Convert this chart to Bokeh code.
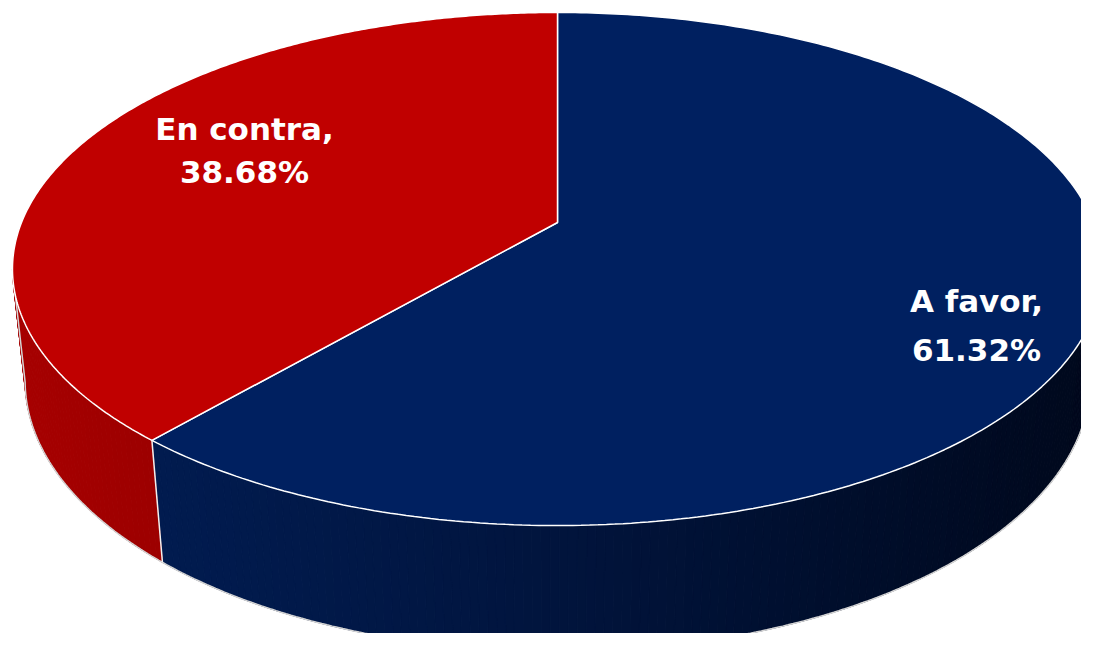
import numpy as np
from bokeh.plotting import figure
from bokeh.models import Range1d
from bokeh.core.properties import value
from bokeh.embed import file_html
from bokeh.resources import INLINE

# ---- data ----
labels = ["A favor", "En contra"]
values = [61.32, 38.68]
top_colors = ["#002060", "#C00000"]
side_light = [(1, 27, 79), (166, 0, 0)]
side_dark = [(0, 8, 28), (156, 0, 0)]

# ---- projection of the tilted disc (screen pixel space) ----
UC, VC = 557.0, 222.0
SX, SY = 536.0, 248.1
K = 0.1813
HZ = 113.0
DELTA = 0.023


def top_pt(theta_deg, r=1.0):
    th = np.radians(theta_deg)
    X = r * np.sin(th)
    Y = -r * np.cos(th)
    w = 1 - K * Y
    return UC + SX * X / w, VC + SY * Y / w


def bot_pt(theta_deg):
    th = np.radians(theta_deg)
    X = np.sin(th)
    Y = -np.cos(th)
    w = 1 - K * Y + DELTA
    return UC + SX * X / w, VC + (SY * Y + HZ) / w


p = figure(width=1081, height=633, output_backend="svg", toolbar_location=None,
           x_range=Range1d(0, 1081), y_range=Range1d(633, 0),
           min_border=0, outline_line_color=None)
p.axis.visible = False
p.grid.visible = False
p.background_fill_color = "white"
p.border_fill_color = "white"

total = sum(values)
angles = np.cumsum([0] + [v / total * 360 for v in values])
starts, ends = angles[:-1], angles[1:]

# visible side range (silhouette)
sil_l = np.degrees(np.arccos(-K))          # ~100.4
sil_r = 360 - sil_l                        # ~259.6

# ---- side strips ----
xs_s, ys_s, cols = [], [], []
for i, (a0, a1) in enumerate(zip(starts, ends)):
    lo, hi = max(a0, sil_l), min(a1, sil_r)
    if hi <= lo:
        continue
    n = max(4, int((hi - lo) / 0.8))
    th = np.linspace(lo, hi, n + 1)
    for j in range(n):
        t0, t1 = th[j], th[j + 1]
        x0, y0 = top_pt(t0)
        x1, y1 = top_pt(t1)
        bx0, by0 = bot_pt(t0)
        bx1, by1 = bot_pt(t1)
        xs_s.append([x0, x1, bx1, bx0])
        ys_s.append([y0, y1, by1, by0])
        xm = (x0 + x1) / 2
        t = np.clip((xm - 150) / (1100 - 150), 0, 1) ** 1.2
        if i == 1:
            t = np.clip((xm - 15) / (160 - 15), 0, 1)
        c = tuple(int(round(side_light[i][k] + (side_dark[i][k] - side_light[i][k]) * t)) for k in range(3))
        cols.append("#%02x%02x%02x" % c)

p.patches(xs_s, ys_s, fill_color=cols, line_color=cols, line_width=1)

# outer silhouette outline of the side
thb = np.linspace(sil_l, sil_r, 300)
bxs, bys = zip(*[bot_pt(t) for t in thb])
txl, tyl = top_pt(sil_l)
txr, tyr = top_pt(sil_r)
p.line([txl] + list(bxs) + [txr], [tyl] + list(bys) + [tyr], line_color="#d4d4d4", line_width=1.5)

# side dividers
for a in list(starts) + [ends[-1]]:
    a_m = a % 360
    if sil_l < a_m < sil_r:
        x0, y0 = top_pt(a_m)
        x1, y1 = bot_pt(a_m)
        p.line([x0, x1], [y0, y1], line_color="#f0f0f0", line_width=1.5)

# ---- top face slices ----
xs_t, ys_t = [], []
for a0, a1 in zip(starts, ends):
    th = np.linspace(a0, a1, 300)
    px, py = zip(*[top_pt(t) for t in th])
    xs_t.append([UC] + list(px))
    ys_t.append([VC] + list(py))
p.patches(xs_t, ys_t, fill_color=top_colors, line_color="white", line_width=1.5)

# ---- labels ----
label_anchor = {"A favor": (976, 300, 349), "En contra": (244, 128, 171)}
lx, ly, lt = [], [], []
for lab, v in zip(labels, values):
    ax, b1, b2 = label_anchor[lab]
    lx += [ax, ax]
    ly += [b1, b2]
    lt += [f"{lab},", f"{v:.2f}%"]
p.text(x=lx, y=ly, text=lt, text_color="white", text_font=value("DejaVu Sans"),
       text_font_style="bold", text_font_size="31px", text_align="center",
       text_baseline="alphabetic")

open("out.html", "w").write(file_html(p, INLINE))
